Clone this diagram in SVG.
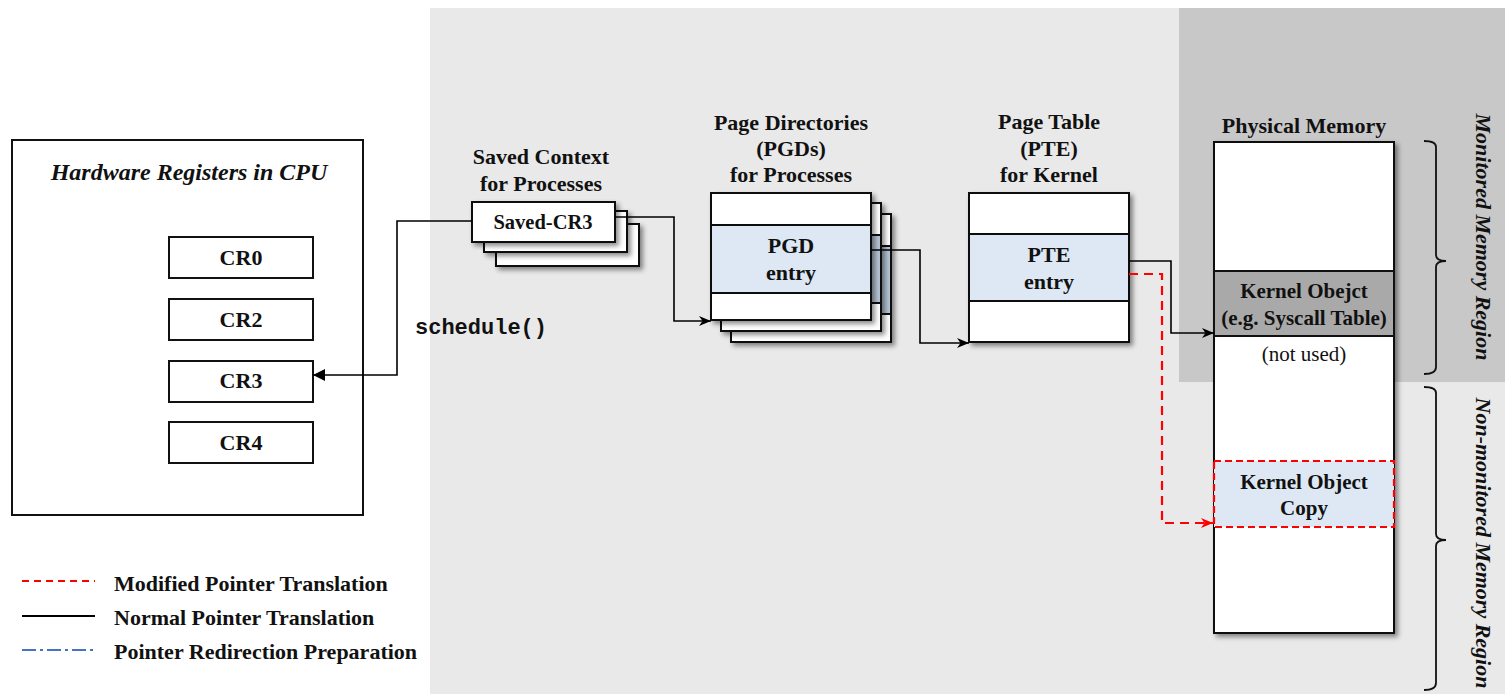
<svg xmlns="http://www.w3.org/2000/svg" width="1505" height="694" viewBox="0 0 1505 694">
<defs>
<filter id="sh" x="-10%" y="-10%" width="130%" height="130%">
<feDropShadow dx="3" dy="3" stdDeviation="2.5" flood-color="#000" flood-opacity="0.45"/>
</filter>
<marker id="ah" viewBox="0 0 12 10" refX="12" refY="5" markerWidth="12" markerHeight="10" markerUnits="userSpaceOnUse" orient="auto">
<path d="M0,0 L12,5 L0,10 L3.5,5 z" fill="#000"/>
</marker>
<marker id="ahr" viewBox="0 0 12 10" refX="12" refY="5" markerWidth="12" markerHeight="10" markerUnits="userSpaceOnUse" orient="auto">
<path d="M0,0 L12,5 L0,10 L3.5,5 z" fill="#ff0000"/>
</marker>
<marker id="tri" viewBox="0 0 12 12" refX="12" refY="6" markerWidth="12" markerHeight="12" markerUnits="userSpaceOnUse" orient="auto">
<path d="M0,0 L12,6 L0,12 z" fill="#000"/>
</marker>
</defs>
<style>
.t{font-family:"Liberation Serif","Times New Roman",serif;font-weight:bold;font-size:22px;fill:#111;text-anchor:middle}
.n{font-family:"Liberation Serif","Times New Roman",serif;font-weight:normal;font-size:21px;fill:#111;text-anchor:middle}
.ti{font-family:"Liberation Serif","Times New Roman",serif;font-weight:bold;font-style:italic;font-size:22px;fill:#111;text-anchor:middle}
.lg{font-family:"Liberation Serif","Times New Roman",serif;font-weight:bold;font-size:22px;fill:#111}
.mono{font-family:"Liberation Mono","Courier New",monospace;font-weight:bold;font-size:22px;fill:#111}
.box{fill:#fff;stroke:#111;stroke-width:2}
.blue{fill:#dde8f4;stroke:#111;stroke-width:2}
.blued{fill:#b4c3d3;stroke:#111;stroke-width:2}
.conn{fill:none;stroke:#000;stroke-width:1.6}
.red{fill:none;stroke:#ff0000;stroke-width:2.2;stroke-dasharray:9,6}
</style>
<rect x="430" y="8" width="1075" height="686" fill="#e9e9e9"/>
<rect x="1179" y="8" width="326" height="374" fill="#c8c8c8"/>

<g id="cpu">
<rect x="12" y="140" width="351" height="375" fill="#fff" stroke="#111" stroke-width="2"/>
<text class="ti" x="189" y="180" font-size="24" style="font-size:24px">Hardware Registers in CPU</text>
</g>
<g id="cr0"><rect class="box" x="169" y="237" width="144" height="41"/><text class="t" x="241" y="265">CR0</text></g>
<g id="cr2"><rect class="box" x="169" y="299" width="144" height="41"/><text class="t" x="241" y="327">CR2</text></g>
<g id="cr3"><rect class="box" x="169" y="361" width="144" height="41"/><text class="t" x="241" y="388">CR3</text></g>
<g id="cr4"><rect class="box" x="169" y="422" width="144" height="41"/><text class="t" x="241" y="450">CR4</text></g>

<g id="saved">
<text class="t" x="541" y="164">Saved Context</text>
<text class="t" x="541" y="191">for Processes</text>
<rect class="box" x="496" y="224" width="143" height="42" filter="url(#sh)"/>
<rect class="box" x="484" y="211" width="143" height="41" filter="url(#sh)"/>
<rect class="box" x="472" y="202" width="143" height="40" filter="url(#sh)"/>
<text class="t" x="543" y="229" style="font-size:20.5px">Saved-CR3</text>
</g>

<g id="pgd">
<text class="t" x="791" y="130">Page Directories</text>
<text class="t" x="791" y="156">(PGDs)</text>
<text class="t" x="791" y="182">for Processes</text>
<g filter="url(#sh)">
<rect class="box" x="731" y="214" width="160" height="128"/>
<rect class="blued" x="731" y="246" width="160" height="68"/>
</g>
<g filter="url(#sh)">
<rect class="box" x="721" y="203" width="160" height="128"/>
<rect class="blued" x="721" y="235" width="160" height="68"/>
</g>
<g filter="url(#sh)">
<rect class="box" x="711" y="193" width="160" height="127"/>
<rect class="blue" x="711" y="225" width="160" height="68"/>
</g>
<text class="t" x="791" y="253">PGD</text>
<text class="t" x="791" y="280">entry</text>
</g>

<g id="pte">
<text class="t" x="1049" y="129">Page Table</text>
<text class="t" x="1049" y="156">(PTE)</text>
<text class="t" x="1049" y="182">for Kernel</text>
<g filter="url(#sh)">
<rect class="box" x="969" y="193" width="160" height="149"/>
<rect class="blue" x="969" y="234" width="160" height="67"/>
</g>
<text class="t" x="1049" y="262">PTE</text>
<text class="t" x="1049" y="289">entry</text>
</g>

<g id="physmem">
<text class="t" x="1304" y="133">Physical Memory</text>
<rect class="box" x="1214" y="142" width="180" height="491" filter="url(#sh)"/>
<rect x="1214" y="271" width="180" height="65" fill="#a9a9a9" stroke="#111" stroke-width="2"/>
<text class="t" x="1304" y="298" style="font-size:21px">Kernel Obejct</text>
<text class="t" x="1304" y="325" style="font-size:21px">(e.g. Syscall Table)</text>
<text class="n" x="1304" y="361">(not used)</text>
</g>
<g id="kcopy">
<rect x="1214" y="461" width="180" height="66" fill="#dde8f4" stroke="#ff0000" stroke-width="2.2" stroke-dasharray="7,4"/>
<text class="t" x="1304" y="489" style="font-size:21px">Kernel Object</text>
<text class="t" x="1304" y="515" style="font-size:21px">Copy</text>
</g>

<g id="regions">
<path d="M1424,141 Q1436,141 1436,147 L1436,255 Q1436,261 1446,261 Q1436,261 1436,267 L1436,367 Q1436,374 1424,374" fill="none" stroke="#111" stroke-width="1.8"/>
<path d="M1424,387 Q1436,387 1436,393 L1436,534 Q1436,540 1446,540 Q1436,540 1436,546 L1436,683 Q1436,690 1424,690" fill="none" stroke="#111" stroke-width="1.8"/>
<text class="ti" transform="translate(1476,237) rotate(90)">Monitored Memory Region</text>
<text class="ti" transform="translate(1476,543) rotate(90)">Non-monitored Memory Region</text>
</g>

<g id="connectors">
<path class="conn" d="M472,221 H397 V375 H313" marker-end="url(#tri)"/>
<path class="conn" d="M615,217 H674 V321 H711" marker-end="url(#ah)"/>
<path class="conn" d="M871,250 H920 V343 H969" marker-end="url(#ah)"/>
<path class="conn" d="M1129,261 H1171 V333 H1214" marker-end="url(#ah)"/>
<path class="red" d="M1129,274 H1162 V523 H1213" marker-end="url(#ahr)"/>
<text class="mono" x="415" y="334">schedule()</text>
</g>

<g id="legend">
<line x1="22" y1="581" x2="95" y2="581" stroke="#ff0000" stroke-width="2" stroke-dasharray="7,5"/>
<line x1="22" y1="616" x2="95" y2="616" stroke="#000" stroke-width="2"/>
<line x1="22" y1="650" x2="95" y2="650" stroke="#4472c4" stroke-width="2" stroke-dasharray="14,4,3,4"/>
<text class="lg" x="114" y="591">Modified Pointer Translation</text>
<text class="lg" x="114" y="625">Normal Pointer Translation</text>
<text class="lg" x="114" y="659">Pointer Redirection Preparation</text>
</g>
</svg>
